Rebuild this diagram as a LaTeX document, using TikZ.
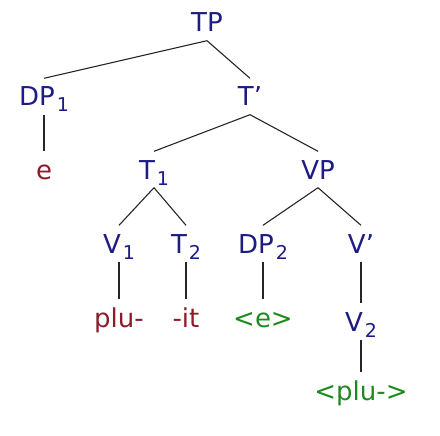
\documentclass[tikz,border=0pt]{standalone}
\usepackage{fontspec}
\setmainfont{DejaVu Sans}
\usepackage{tikz}

\definecolor{catblue}{HTML}{1C1C82}
\definecolor{lexred}{HTML}{8C1C2C}
\definecolor{copygreen}{HTML}{1E8A1E}

\newcommand{\idx}[1]{\kern2pt\raisebox{-6pt}{\fontsize{19}{19}\selectfont #1}}

\begin{document}
\begin{tikzpicture}[x=1pt,y=-1pt]

  \tikzstyle{lbl}=[anchor=base,inner sep=1.5pt,text height=26pt,text depth=7pt,
    font=\fontsize{26}{30}\selectfont]
  \tikzstyle{cat}=[lbl,text=catblue]
  \tikzstyle{word}=[lbl,text=lexred]
  \tikzstyle{trace}=[lbl,text=copygreen]

  \useasboundingbox (0,0) rectangle (440,436);

  \node  (tp)    at (207,32)   [cat]   {TP};

  \node  (dp1)   at (44,106)   [cat]   {DP\idx{1}};
  \node  (tbar)  at (250,106)  [cat]   {T’};

  \node  (e)     at (44,179)   [word]  {e};
  \node  (t1)    at (154,179)  [cat]   {T\idx{1}};
  \node  (vp)    at (318,179)  [cat]   {VP};

  \node  (v1)    at (119,253)  [cat]   {V\idx{1}};
  \node  (t2)    at (186,253)  [cat]   {T\idx{2}};
  \node  (dp2)   at (263,253)  [cat]   {DP\idx{2}};
  \node  (vbar)  at (361,253)  [cat]   {V’};

  \node  (plu)   at (119,327)  [word]  {plu-};
  \node  (it)    at (186,327)  [word]  {-it};
  \node  (te)    at (263,327)  [trace] {<e>};
  \node  (v2)    at (361,331)  [cat]   {V\idx{2}};

  \node  (tplu)  at (361,400)  [trace] {<plu->};

  \tikzstyle{branch}=[draw=black!85,line width=1.1pt]

  \path (tp.south)   edge [branch] (dp1.north)
                     edge [branch] (tbar.north)
        (dp1.south)  edge [branch] (e.north)
        (tbar.south) edge [branch] (t1.north)
                     edge [branch] (vp.north)
        (t1.south)   edge [branch] (v1.north)
                     edge [branch] (t2.north)
        (vp.south)   edge [branch] (dp2.north)
                     edge [branch] (vbar.north)
        (v1.south)   edge [branch] (plu.north)
        (t2.south)   edge [branch] (it.north)
        (dp2.south)  edge [branch] (te.north)
        (vbar.south) edge [branch] (v2.north)
        (v2.south)   edge [branch] (tplu.north);

\end{tikzpicture}
\end{document}
